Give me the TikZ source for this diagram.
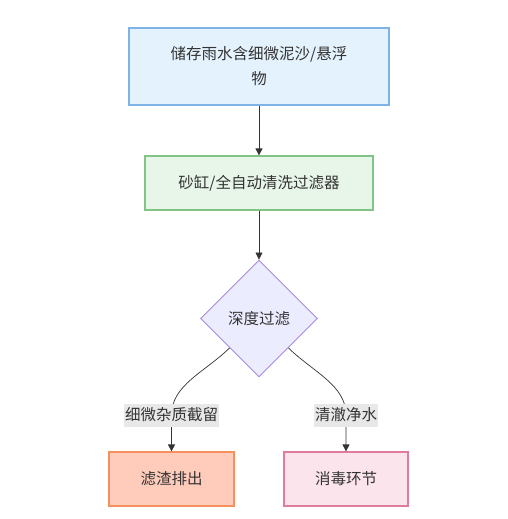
\documentclass[tikz,border=0pt]{standalone}
\usepackage{fontspec}
\setmainfont{Noto Sans CJK SC}
\usepackage{tikz}
\usetikzlibrary{positioning,arrows.meta,shapes.geometric}
\usepackage{xcolor}

\definecolor{ink}{HTML}{333333}
\definecolor{rainfill}{HTML}{E3F2FD}
\definecolor{raindraw}{HTML}{7FB2E5}
\definecolor{filterfill}{HTML}{E8F5E9}
\definecolor{filterdraw}{HTML}{82C386}
\definecolor{depthfill}{HTML}{ECECFF}
\definecolor{depthdraw}{HTML}{A88BE0}
\definecolor{wastefill}{HTML}{FFCCBC}
\definecolor{wastedraw}{HTML}{F4915E}
\definecolor{cleanfill}{HTML}{FCE4EC}
\definecolor{cleandraw}{HTML}{E07BA0}
\definecolor{labelfill}{HTML}{E8E8E8}

\begin{document}
\begin{tikzpicture}[
  x=1pt, y=-1pt,
  font=\fontsize{15.5}{25}\selectfont, text=ink,
  box/.style={rectangle, draw, line width=1.2pt, text centered, inner sep=0pt},
  decision/.style={diamond, draw, line width=0.9pt, aspect=1, minimum size=117pt, inner sep=0pt},
  elabel/.style={fill=labelfill, inner xsep=1pt, inner ysep=0pt, minimum height=23pt, text=ink},
  arrow/.style={-{Triangle[length=7pt,width=7pt]}, draw=ink, line width=0.7pt}
]
\useasboundingbox (0,0) rectangle (507,519);

\node[box, fill=rainfill, draw=raindraw, minimum width=260pt, minimum height=77pt, align=center] (rain) at (259,66.5) {储存雨水含细微泥沙/悬浮\\物};
\node[box, fill=filterfill, draw=filterdraw, minimum width=228pt, minimum height=54pt] (filter) at (259,183) {砂缸/全自动清洗过滤器};
\node[decision, fill=depthfill, draw=depthdraw] (depth) at (259,318.5) {深度过滤};
\node[box, fill=wastefill, draw=wastedraw, minimum width=125pt, minimum height=54pt] (waste) at (171.5,479) {滤渣排出};
\node[box, fill=cleanfill, draw=cleandraw, minimum width=124pt, minimum height=54pt] (clean) at (346,479) {消毒环节};

\coordinate (cut) at (171.5,415);
\coordinate (pure) at (346,415);

\draw[arrow] (rain) -- (filter);
\draw[arrow] (filter) -- (depth);
\draw[arrow] (depth.south west) .. controls (205,372) and (171.5,385) .. (cut) -- (waste.north);
\draw[arrow] (depth.south east) .. controls (313,372) and (346,385) .. (pure) -- (clean.north);

\node[elabel] (cutlabel) at (cut) {细微杂质截留};
\node[elabel] (purelabel) at (pure) {清澈净水};
\end{tikzpicture}
\end{document}
